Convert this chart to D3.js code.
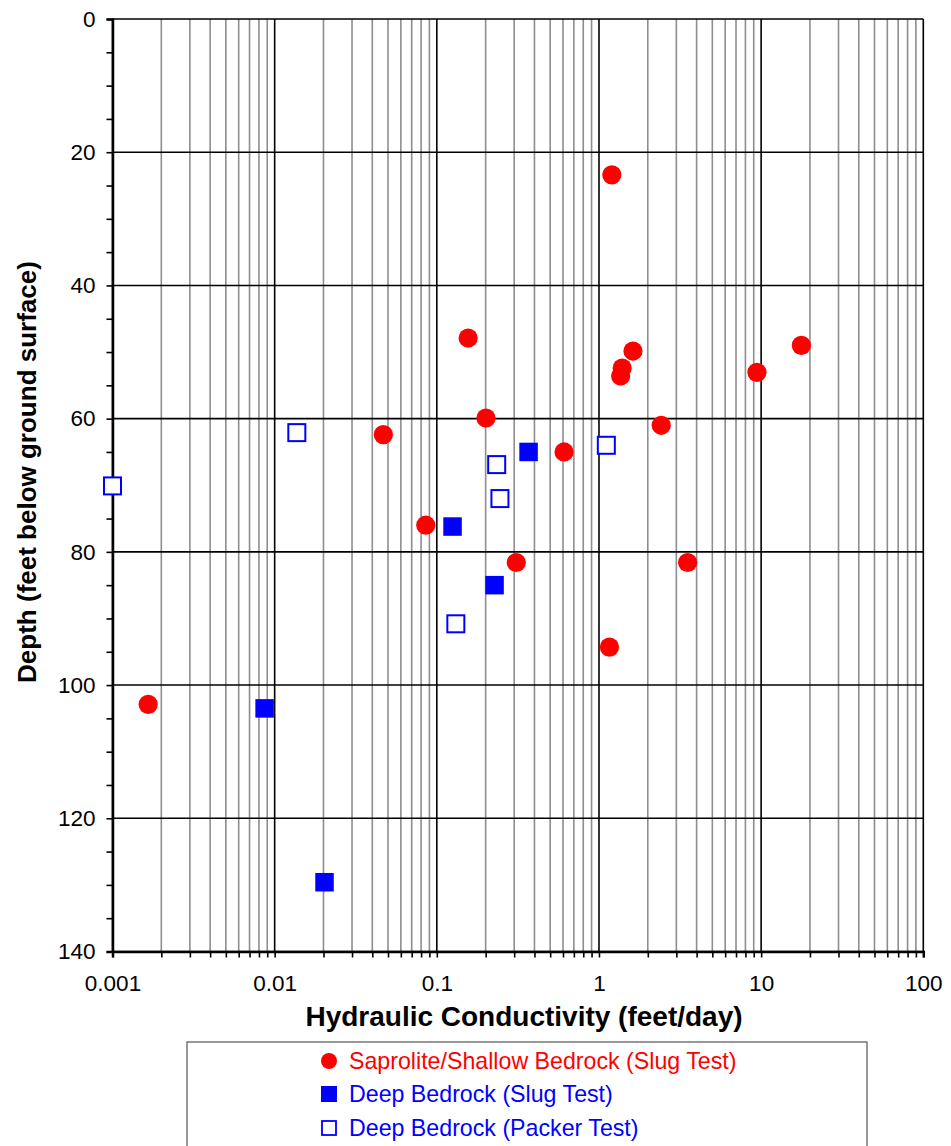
<!DOCTYPE html>
<html>
<head>
<meta charset="utf-8">
<script src="https://cdn.jsdelivr.net/npm/d3@7"></script>
<style>
  html, body { margin: 0; padding: 0; background: #fff; }
  svg { display: block; font-family: "Liberation Sans", Arial, sans-serif; }
</style>
</head>
<body>
<svg id="chart" width="951" height="1146"></svg>
<script>
// Hydraulic conductivity (feet/day) versus depth (feet below ground surface)
const saproliteK     = [1.2, 0.156, 1.62, 1.39, 1.36, 17.7, 9.42, 0.201, 2.42, 0.0468, 0.609, 0.0855, 0.309, 3.52, 1.16, 0.00166];
const saproliteDepth = [23.4, 47.9, 49.85, 52.4, 53.6, 49.0, 53.05, 59.9, 61.0, 62.4, 65.0, 76.0, 81.6, 81.6, 94.3, 102.9];

const deepSlugK      = [0.368, 0.125, 0.227, 0.00867, 0.0203];
const deepSlugDepth  = [65.0, 76.2, 85.0, 103.5, 129.6];

const deepPackerK     = [0.001, 0.0137, 1.11, 0.234, 0.245, 0.131];
const deepPackerDepth = [70.1, 62.1, 64.0, 66.9, 72.0, 90.8];

const xDecades    = [0.001, 0.01, 0.1, 1, 10, 100];
const xTickLabels = ["0.001", "0.01", "0.1", "1", "10", "100"];
const yMajorTicks = [0, 20, 40, 60, 80, 100, 120, 140];

const seriesNames = [
  "Saprolite/Shallow Bedrock (Slug Test)",
  "Deep Bedrock (Slug Test)",
  "Deep Bedrock (Packer Test)"
];

const RED = "#ff0000", BLUE = "#0000ff";

const svg = d3.select("#chart");
const x = d3.scaleLog().domain([0.001, 100]).range([112.5, 923.3]);
const y = d3.scaleLinear().domain([0, 140]).range([19, 951.5]);

// minor values 2..9 in each decade
const xMinor = [];
xDecades.slice(0, -1).forEach(d => { for (let m = 2; m <= 9; m++) xMinor.push(d * m); });
const xAllTicks = xMinor.concat(xDecades).sort((a, b) => a - b);
const yMinorTicks = d3.range(0, 141, 5);

// grid
const grid = svg.append("g");
grid.selectAll("line.minor").data(xMinor).join("line")
  .attr("x1", d => x(d)).attr("x2", d => x(d))
  .attr("y1", y(0)).attr("y2", y(140))
  .attr("stroke", "#8e8e8e").attr("stroke-width", 1.6);
grid.selectAll("line.vmajor").data(xDecades).join("line")
  .attr("x1", d => x(d)).attr("x2", d => x(d))
  .attr("y1", y(0)).attr("y2", y(140))
  .attr("stroke", "#000").attr("stroke-width", 1.6);
grid.selectAll("line.hmajor").data(yMajorTicks).join("line")
  .attr("x1", x(0.001)).attr("x2", x(100))
  .attr("y1", d => y(d)).attr("y2", d => y(d))
  .attr("stroke", "#000").attr("stroke-width", 1.6);

// axes
const yAxis = d3.axisLeft(y).tickValues(yMinorTicks).tickSize(6).tickPadding(11)
  .tickFormat(d => d % 20 === 0 ? d : "");
const gy = svg.append("g").attr("transform", `translate(${x(0.001)},0)`).call(yAxis);
gy.select(".domain").attr("stroke", "#000").attr("stroke-width", 2.5);
gy.selectAll(".tick line").attr("stroke", "#000").attr("stroke-width", 1.6);
gy.selectAll(".tick text").attr("font-size", 22.5).attr("fill", "#000")
  .attr("font-family", "Liberation Sans, Arial, sans-serif");

const xAxis = d3.axisBottom(x).tickValues(xAllTicks).tickSize(6).tickPadding(18)
  .tickFormat(d => { const i = xDecades.indexOf(d); return i >= 0 ? xTickLabels[i] : ""; });
const gx = svg.append("g").attr("transform", `translate(0,${y(140)})`).call(xAxis);
gx.select(".domain").attr("stroke", "#000").attr("stroke-width", 2.5);
gx.selectAll(".tick line").attr("stroke", "#000").attr("stroke-width", 1.6);
gx.selectAll(".tick text").attr("font-size", 22.5).attr("fill", "#000")
  .attr("font-family", "Liberation Sans, Arial, sans-serif");

// axis titles
svg.append("text")
  .attr("x", 524).attr("y", 1026)
  .attr("text-anchor", "middle").attr("font-weight", "bold").attr("font-size", 28)
  .text("Hydraulic Conductivity (feet/day)");
svg.append("text")
  .attr("transform", "translate(36,472) rotate(-90)")
  .attr("text-anchor", "middle").attr("font-weight", "bold").attr("font-size", 26)
  .text("Depth (feet below ground surface)");

// data points
const pts = svg.append("g");
pts.selectAll("circle").data(d3.zip(saproliteK, saproliteDepth)).join("circle")
  .attr("cx", d => x(d[0])).attr("cy", d => y(d[1])).attr("r", 9.6)
  .attr("fill", RED);
const S = 18.5;
pts.selectAll("rect.filled").data(d3.zip(deepSlugK, deepSlugDepth)).join("rect")
  .attr("class", "filled")
  .attr("x", d => x(d[0]) - S / 2).attr("y", d => y(d[1]) - S / 2)
  .attr("width", S).attr("height", S).attr("fill", BLUE);
const So = 17;
pts.selectAll("rect.open").data(d3.zip(deepPackerK, deepPackerDepth)).join("rect")
  .attr("class", "open")
  .attr("x", d => x(d[0]) - So / 2).attr("y", d => y(d[1]) - So / 2)
  .attr("width", So).attr("height", So)
  .attr("fill", "#fff").attr("stroke", BLUE).attr("stroke-width", 2);

// legend
const lg = svg.append("g");
lg.append("rect").attr("x", 187).attr("y", 1042).attr("width", 680).attr("height", 120)
  .attr("fill", "#fff").attr("stroke", "#555").attr("stroke-width", 1.2);
const rowsY = [1061, 1094, 1128];
const legendColors = [RED, BLUE, BLUE];
lg.append("circle").attr("cx", 329).attr("cy", rowsY[0]).attr("r", 8).attr("fill", RED);
lg.append("rect").attr("x", 321).attr("y", rowsY[1] - 8).attr("width", 16).attr("height", 16).attr("fill", BLUE);
lg.append("rect").attr("x", 322).attr("y", rowsY[2] - 7).attr("width", 14).attr("height", 14)
  .attr("fill", "#fff").attr("stroke", BLUE).attr("stroke-width", 1.8);
lg.selectAll("text").data(seriesNames).join("text")
  .attr("x", 349).attr("y", (d, i) => rowsY[i]).attr("dy", "0.35em")
  .attr("font-size", 23.2).attr("fill", (d, i) => legendColors[i])
  .text(d => d);
</script>
</body>
</html>
